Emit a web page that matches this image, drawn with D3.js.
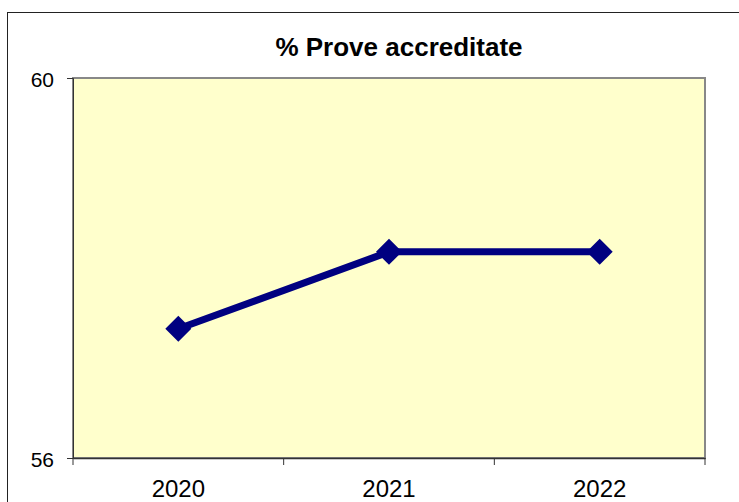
<!DOCTYPE html>
<html><head><meta charset="utf-8">
<script src="https://cdn.jsdelivr.net/npm/d3@7"></script>
<style>body{margin:0;background:#fff}svg{display:block}</style>
</head><body>
<script>
const categories = ["2020", "2021", "2022"];
const values = [57.36, 58.17, 58.17];
const yTicks = [56, 60];
const title = "% Prove accreditate";

(function () {
const W = 739, H = 502;
const font = "Liberation Sans, Arial, sans-serif";
const svg = d3.select("body").append("svg").attr("width", W).attr("height", H);
svg.append("rect").attr("x", 7.5).attr("y", 12.5).attr("width", 760).attr("height", 520)
  .attr("fill", "#fff").attr("stroke", "#222").attr("stroke-width", 1);

const pl = 73, pr = 705, pt = 78, pb = 458;
const x = d3.scaleBand().domain(categories).range([pl, pr]);
const y = d3.scaleLinear().domain([56, 60]).range([pb, pt]);

svg.append("rect").attr("x", pl).attr("y", pt).attr("width", pr - pl).attr("height", pb - pt)
  .attr("fill", "#ffffcc").attr("stroke", "#888").attr("stroke-width", 2);

svg.append("text").attr("x", 399).attr("y", 56).attr("text-anchor", "middle")
  .attr("font-family", font).attr("font-weight", "bold").attr("font-size", 26)
  .text(title);

const yAxis = svg.append("g").attr("transform", `translate(${pl},0)`)
  .call(d3.axisLeft(y).tickValues(yTicks).tickSize(6).tickPadding(13).tickFormat(d3.format("d")));
yAxis.selectAll("text").attr("font-family", font).attr("font-size", 21).attr("fill", "#000").attr("dy", "0.4em");
yAxis.selectAll("line, path").attr("stroke", "#333");

const xAxis = svg.append("g").attr("transform", `translate(0,${pb})`)
  .call(d3.axisBottom(x).tickSize(0).tickPadding(0));
xAxis.selectAll("text").attr("font-family", font).attr("font-size", 24).attr("fill", "#000")
  .attr("y", 39).attr("dy", 0);
xAxis.selectAll("path").attr("stroke", "#333").attr("stroke-width", 1.5);
const bounds = categories.map(c => x(c)).concat([pr]);
xAxis.selectAll(".bound").data(bounds).enter().append("line")
  .attr("x1", d => d).attr("x2", d => d).attr("y1", 0).attr("y2", 7).attr("stroke", "#333");

const line = d3.line().x((d, i) => x(categories[i]) + x.bandwidth() / 2).y(d => y(d));
svg.append("path").datum(values).attr("d", line).attr("fill", "none")
  .attr("stroke", "#000080").attr("stroke-width", 7);
svg.selectAll(".pt").data(values).enter().append("path")
  .attr("transform", (d, i) => `translate(${x(categories[i]) + x.bandwidth() / 2},${y(d)})`)
  .attr("d", "M0,-13L13,0L0,13L-13,0Z").attr("fill", "#000080");
})();
</script>
</body></html>
